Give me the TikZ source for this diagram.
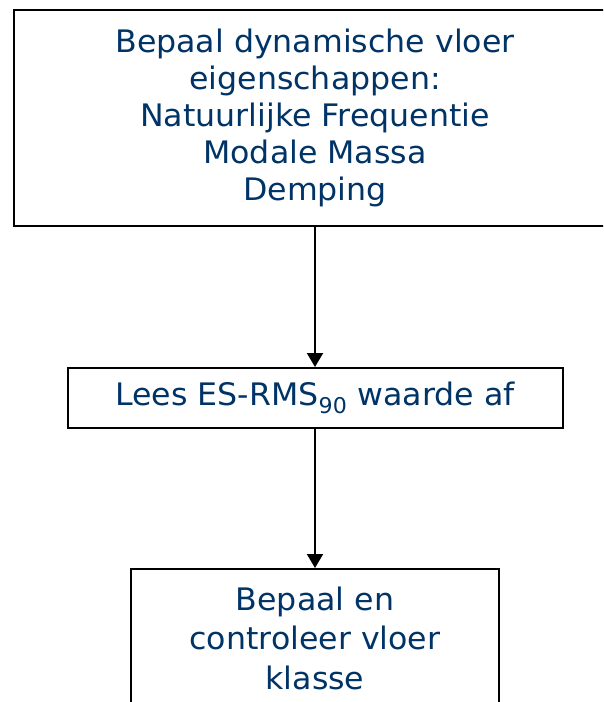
\documentclass[tikz,border=0pt]{standalone}
\usepackage{fontspec}
\setmainfont[FakeStretch=1.02]{DejaVu Sans}
\usetikzlibrary{arrows.meta}
\definecolor{txtblue}{RGB}{0,51,102}
\tikzset{
  box/.style={draw=black, line width=2pt, fill=white, align=center, text=txtblue,
    font=\fontsize{31}{37}\selectfont, inner sep=0pt},
  conn/.style={line width=2pt, -{Triangle[length=14pt,width=16pt]}}
}
\begin{document}
\begin{tikzpicture}[x=1pt,y=1pt]
\useasboundingbox (0,0) rectangle (603,-702);
\clip (0,0) rectangle (603,-702);
\node[box, minimum width=602pt, minimum height=216pt] (top) at (315,-118)
  {Bepaal dynamische vloer\\eigenschappen:\\Natuurlijke Frequentie\\Modale Massa\\Demping};
\node[box, minimum width=495pt, minimum height=60pt] (mid) at (315,-398)
  {Lees ES-RMS\textsubscript{90} waarde af};
\node[box, minimum width=368pt, minimum height=150pt] (bot) at (315,-644)
  {};
\node[text=txtblue, align=center, font=\fontsize{31}{39.5}\selectfont, anchor=north] (bottxt) at (315,-583)
  {Bepaal en\\controleer vloer\\klasse};
\draw[conn] (top.south) -- (mid.north);
\draw[conn] (mid.south) -- (bot.north);
\end{tikzpicture}
\end{document}
